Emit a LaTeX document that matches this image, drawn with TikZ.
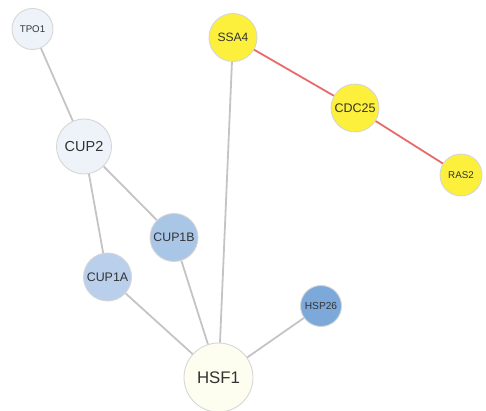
\documentclass[tikz,border=0pt]{standalone}
\usepackage{fontspec}
\setmainfont{Liberation Sans}
\usepackage{xcolor}
\usepackage{tikz}
\usetikzlibrary{positioning}
\definecolor{ringGray}{RGB}{214,214,214}
\definecolor{edgeGray}{RGB}{196,196,196}
\definecolor{edgeRed}{RGB}{232,106,106}
\definecolor{txtGray}{RGB}{51,51,51}
\definecolor{paleBlue}{RGB}{238,243,250}
\definecolor{midBlue}{RGB}{185,207,235}
\definecolor{cupBlue}{RGB}{169,198,230}
\definecolor{deepBlue}{RGB}{125,169,218}
\definecolor{ivory}{RGB}{253,253,240}
\definecolor{geneYellow}{RGB}{252,240,60}

\begin{document}
\begin{tikzpicture}[x=1pt,y=-1pt,
    gene/.style={circle, draw=ringGray, line width=0.9pt, inner sep=0pt, text=txtGray},
    link/.style={edgeGray, line width=1.8pt},
    hot/.style={edgeRed, line width=1.8pt}]
    \useasboundingbox (0,0) rectangle (486,411);

    % nodes
    \node[gene, fill=paleBlue, minimum size=41pt, font=\fontsize{9.7}{10}\selectfont] (tpo) at (32.5,29) {TPO1};
    \node[gene, fill=paleBlue, minimum size=55pt, font=\fontsize{14.5}{15}\selectfont] (cup2) at (84,146.5) {CUP2};
    \node[gene, fill=cupBlue, minimum size=48pt, font=\fontsize{12.3}{13}\selectfont] (cup1b) at (174,237.5) {CUP1B};
    \node[gene, fill=midBlue, minimum size=48pt, font=\fontsize{12.4}{13}\selectfont] (cup1a) at (107.5,277) {CUP1A};
    \node[gene, fill=ivory, minimum size=69pt, font=\fontsize{16.8}{17}\selectfont] (hsf) at (218.5,377.5) {HSF1};
    \node[gene, fill=deepBlue, minimum size=41pt, font=\fontsize{10.2}{11}\selectfont] (hsp) at (321,306) {HSP26};
    \node[gene, fill=geneYellow, minimum size=48pt, font=\fontsize{12.1}{13}\selectfont] (ssa) at (233,37.5) {SSA4};
    \node[gene, fill=geneYellow, minimum size=48pt, font=\fontsize{12.5}{13}\selectfont] (cdc) at (355,108) {CDC25};
    \node[gene, fill=geneYellow, minimum size=42pt, font=\fontsize{9.8}{10}\selectfont] (ras) at (461,175) {RAS2};

    % edges
    \draw[link] (tpo) -- (cup2);
    \draw[link] (cup2) -- (cup1a);
    \draw[link] (cup2) -- (cup1b);
    \draw[link] (cup1a) -- (hsf);
    \draw[link] (cup1b) -- (hsf);
    \draw[link] (ssa) -- (hsf);
    \draw[link] (hsp) -- (hsf);
    \draw[hot] (ssa) -- (cdc);
    \draw[hot] (cdc) -- (ras);
\end{tikzpicture}
\end{document}
